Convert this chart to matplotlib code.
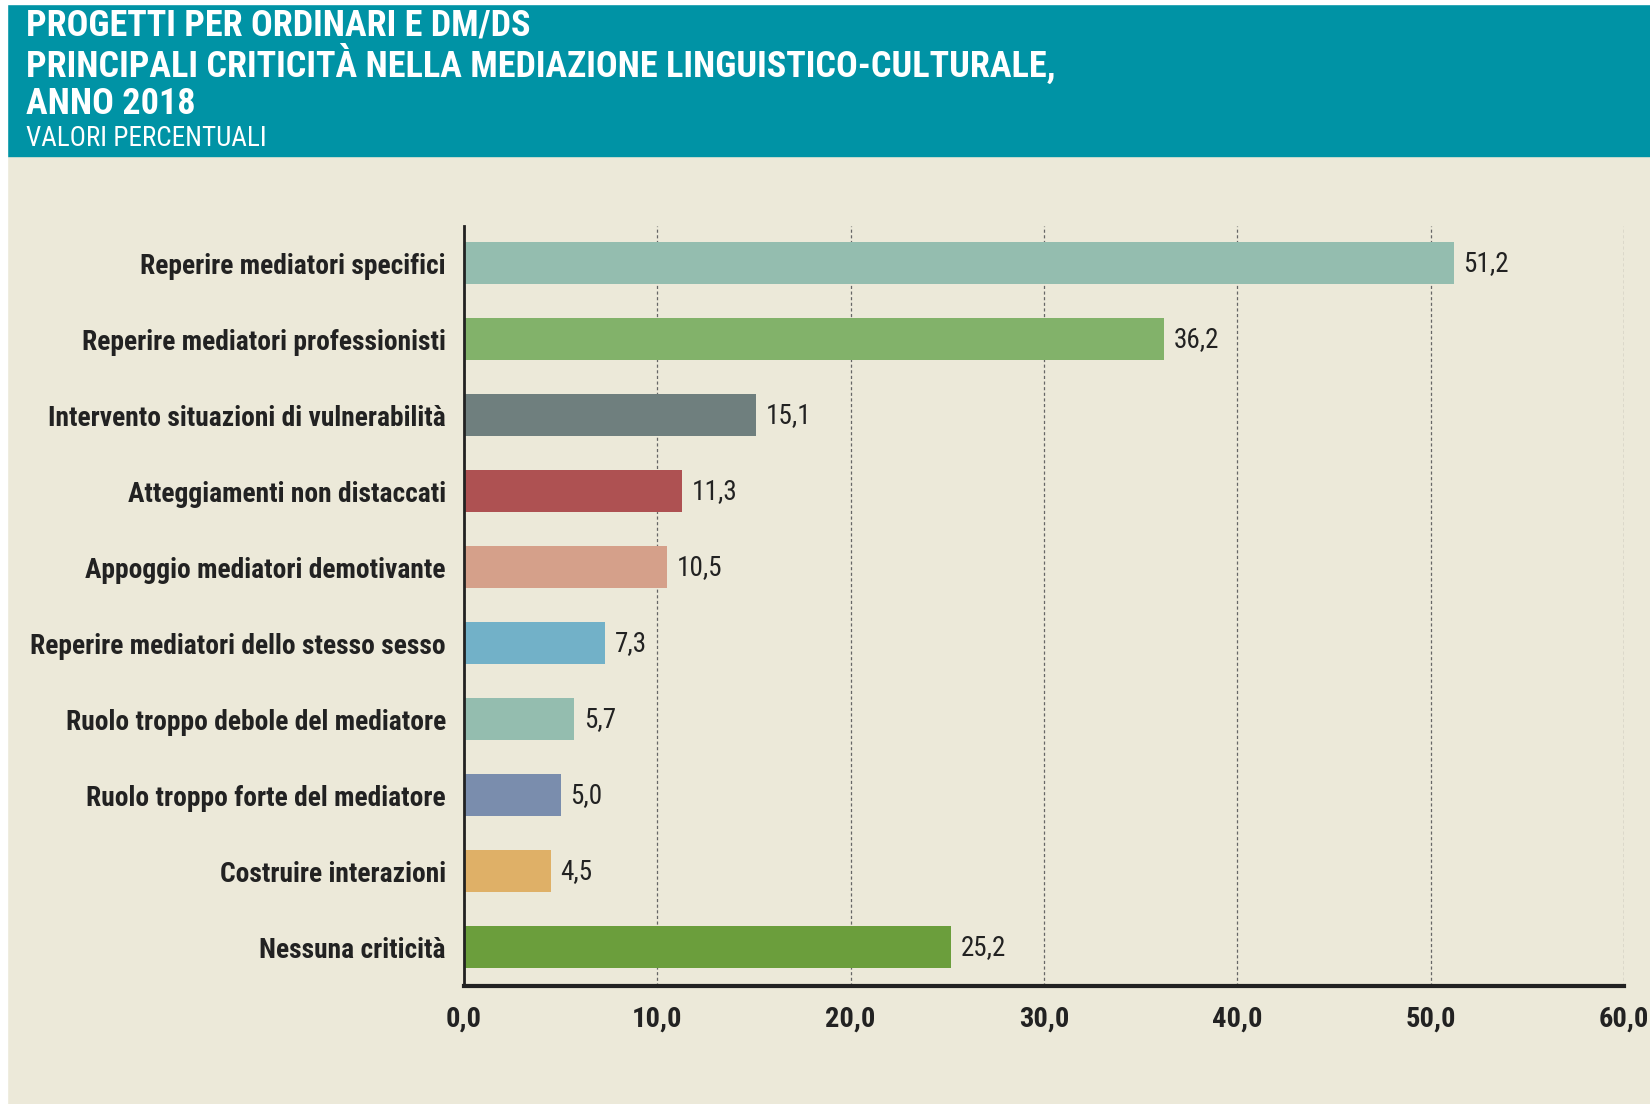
import matplotlib
matplotlib.use('Agg')
from matplotlib import pyplot as plt
from matplotlib.patches import Rectangle

plt.rcParams['font.family'] = ['Roboto Condensed', 'DejaVu Sans']

categories = [
    'Reperire mediatori specifici',
    'Reperire mediatori professionisti',
    'Intervento situazioni di vulnerabilità',
    'Atteggiamenti non distaccati',
    'Appoggio mediatori demotivante',
    'Reperire mediatori dello stesso sesso',
    'Ruolo troppo debole del mediatore',
    'Ruolo troppo forte del mediatore',
    'Costruire interazioni',
    'Nessuna criticità',
]
values = [51.2, 36.2, 15.1, 11.3, 10.5, 7.3, 5.7, 5.0, 4.5, 25.2]
colors = ['#94BDAF', '#82B26A', '#6F7F7E', '#AE5152', '#D5A08A',
          '#72B1C8', '#94BDAF', '#7A8DAD', '#DFB067', '#6B9E3C']
x_ticks = [0, 10, 20, 30, 40, 50, 60]

bg = '#ECE9D9'
teal = '#0093A5'
dark = '#222222'

fig = plt.figure(figsize=(16.5, 11.04), dpi=100, facecolor=bg)

# fascia del titolo
fig.add_artist(Rectangle((0.0045, 1 - 156 / 1104), 1, 152 / 1104,
                         transform=fig.transFigure, color=teal, zorder=0))
fig.add_artist(Rectangle((0, 0), 0.0045, 1, transform=fig.transFigure,
                         color='white', zorder=0))
fig.add_artist(Rectangle((0, 1 - 4 / 1104), 1, 4 / 1104, transform=fig.transFigure,
                         color='white', zorder=0))

title_lines = ['PROGETTI PER ORDINARI E DM/DS',
               'PRINCIPALI CRITICITÀ NELLA MEDIAZIONE LINGUISTICO-CULTURALE,',
               'ANNO 2018']
for i, line in enumerate(title_lines):
    fig.text(26 / 1650, 1 - (25 + i * 39.5) / 1104, line, color='white',
             fontsize=26, fontweight='bold', va='center', ha='left')
fig.text(26 / 1650, 1 - 139 / 1104, 'VALORI PERCENTUALI', color='white',
         fontsize=19.5, fontweight='normal', va='center', ha='left')

ax = fig.add_axes([464 / 1650, 0.1069, 0.703, 0.6884])
ax.set_facecolor(bg)

pos = list(range(len(categories)))
ax.barh(pos, values, height=0.55, color=colors, zorder=3)
for p, v in zip(pos, values):
    ax.text(v + 0.5, p, f'{v:.1f}'.replace('.', ','), va='center', ha='left',
            fontsize=19.5, color=dark, zorder=4)

ax.set_ylim(len(categories) - 0.49, -0.49)
ax.set_xlim(0, 60)
ax.set_yticks(pos)
ax.set_yticklabels(categories, fontsize=19.8, fontweight='bold', color=dark)
ax.set_xticks(x_ticks)
ax.set_xticklabels([f'{t:.1f}'.replace('.', ',') for t in x_ticks],
                   fontsize=20.5, fontweight='bold', color=dark)
ax.tick_params(axis='y', length=0, pad=13)
ax.tick_params(axis='x', length=0, pad=14)

ax.grid(axis='x', color='#666666', linestyle=(0, (2.5, 2)), linewidth=0.9, zorder=1)
for s in ['top', 'right']:
    ax.spines[s].set_visible(False)
ax.spines['left'].set_color(dark)
ax.spines['left'].set_linewidth(2)
ax.spines['bottom'].set_color(dark)
ax.spines['bottom'].set_linewidth(3)
ax.spines['left'].set_zorder(5)
ax.spines['bottom'].set_zorder(5)

fig.savefig('out.png', dpi=100, facecolor=bg)
